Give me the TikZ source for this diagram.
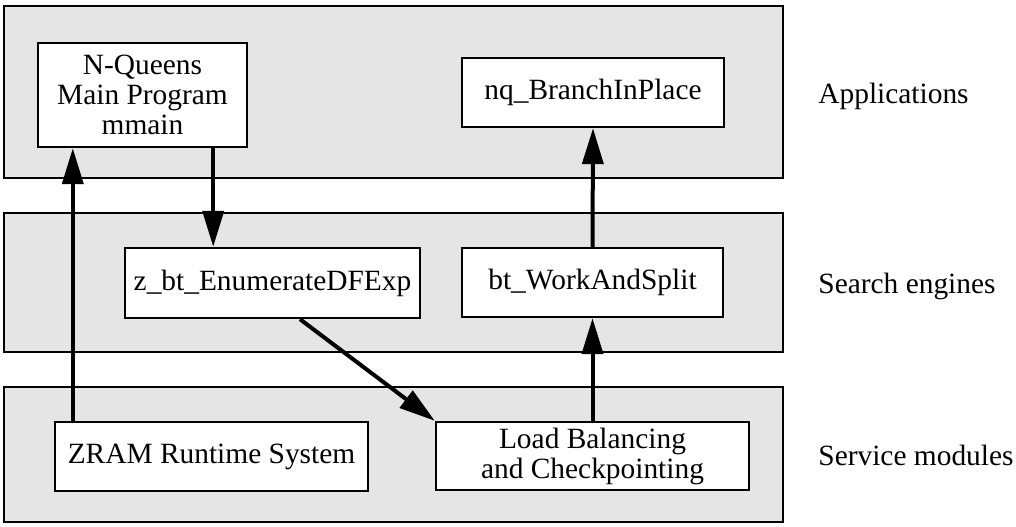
\documentclass[tikz,border=0pt]{standalone}
\usepackage{fontspec}
\setmainfont{Liberation Serif}
\usetikzlibrary{arrows.meta, calc}

\tikzset{
  band/.style={draw, line width=1.2pt, fill=gray!20},
  box/.style={draw, line width=1.2pt, fill=white, align=center, inner sep=0pt},
  arr/.style={line width=2pt, -{Triangle[length=18pt,width=10.5pt]}},
  lvl/.style={anchor=base west, inner sep=0pt}
}

\begin{document}
\begin{tikzpicture}[x=0.5pt,y=-0.5pt,font=\fontsize{14.7}{15}\selectfont]

\useasboundingbox (0,0) rectangle (1016,526);

% layers
\draw[band] (4,6) rectangle (783,178);
\draw[band] (4,213) rectangle (783,352);
\draw[band] (4,387) rectangle (783,522);

\node[lvl] (app) at (818,103) {Applications};
\node[lvl] (srch) at (818,293) {Search engines};
\node[lvl] (serv) at (818,465) {Service modules};

% applications
\node[box,minimum width=104.5pt,minimum height=52pt] (main) at (142.5,95)
{N-Queens\\Main Program\\mmain};
\node[box,minimum width=131pt,minimum height=34.5pt] (branch) at (593,92.5)
{nq\_BranchInPlace};

% search engines
\node[box,minimum width=147.5pt,minimum height=35pt] (enum) at (272.5,283)
{z\_bt\_EnumerateDFExp};
\node[box,minimum width=130.5pt,minimum height=34.5pt] (work) at (592.5,282.5)
{bt\_WorkAndSplit};

% service modules
\node[box,minimum width=156.5pt,minimum height=34.5pt] (zram) at (211.5,456.5)
{ZRAM Runtime System};
\node[box,minimum width=156.5pt,minimum height=34pt] (lb) at (592.5,456)
{Load Balancing\\and Checkpointing};

% calls
\coordinate (z1) at ([xshift=9.5pt]zram.north west);
\coordinate (m1) at ([xshift=-17.5pt]main.south east);
\coordinate (e1) at ([xshift=13.75pt]enum.south);

\draw[arr] (z1) -- (z1 |- main.south);
\draw[arr] (m1) -- (m1 |- enum.north);
\draw[arr] (e1) -- (lb.north west);
\draw[arr] (lb.north) -- (work.south);
\draw[arr] (work.north) -- (branch.south);

\end{tikzpicture}
\end{document}
